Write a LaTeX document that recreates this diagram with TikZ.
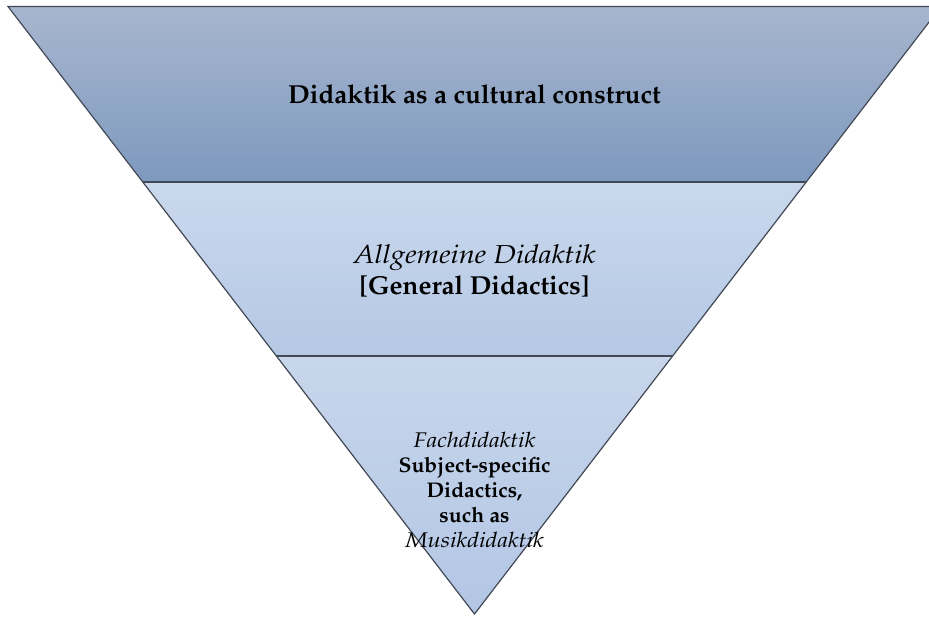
\documentclass[tikz,border=0pt]{standalone}
\usepackage[T1]{fontenc}
\usepackage{mathpazo}
\usepackage{graphicx}
\usetikzlibrary{calc}
\definecolor{topUp}{RGB}{167,182,207}
\definecolor{topLow}{RGB}{126,153,190}
\definecolor{midUp}{RGB}{202,216,236}
\definecolor{midLow}{RGB}{180,200,229}
\definecolor{tipUp}{RGB}{200,214,235}
\definecolor{tipLow}{RGB}{178,198,229}
\definecolor{rim}{RGB}{66,72,84}
\newcommand{\wideit}[1]{\scalebox{1.12}[1]{\itshape #1}}

\begin{document}
\begin{tikzpicture}[x=0.5pt,y=-0.5pt,
  rimline/.style={draw=rim,line width=0.6pt,line join=miter},
  bigtext/.style={font=\fontsize{13}{15.5}\selectfont,align=center,inner sep=0pt},
  smalltext/.style={font=\fontsize{10.6}{12.5}\selectfont,align=center,inner sep=0pt}]
\useasboundingbox (0,0) rectangle (929,618);
\clip (0,0) rectangle (929,618);
\coordinate (L) at (8,6.5);
\coordinate (R) at (941,6.5);
\coordinate (V) at (474.5,614);
\coordinate (A) at ($(L)!0.2889!(V)$);
\coordinate (B) at ($(R)!0.2889!(V)$);
\coordinate (C) at ($(L)!0.5753!(V)$);
\coordinate (D) at ($(R)!0.5753!(V)$);

% bands
\shade[top color=topUp,bottom color=topLow] (L)--(R)--(B)--(A)--cycle;
\shade[top color=midUp,bottom color=midLow] (A)--(B)--(D)--(C)--cycle;
\shade[top color=tipUp,bottom color=tipLow] (C)--(D)--(V)--cycle;
\draw[rimline] (L)--(R)--(V)--cycle;
\draw[rimline] (A)--(B);
\draw[rimline] (C)--(D);

\node[bigtext,anchor=base] (culture) at (474.5,103) {\bfseries Didaktik as a cultural construct};
\node[bigtext] (general) at (474.5,271) {\wideit{Allgemeine Didaktik}\\\bfseries [General Didactics]};
\node[smalltext] (subject) at (474.5,490) {\wideit{Fachdidaktik}\\\bfseries Subject-specific\\\bfseries Didactics,\\\bfseries such as\\\wideit{Musikdidaktik}};
\end{tikzpicture}
\end{document}
